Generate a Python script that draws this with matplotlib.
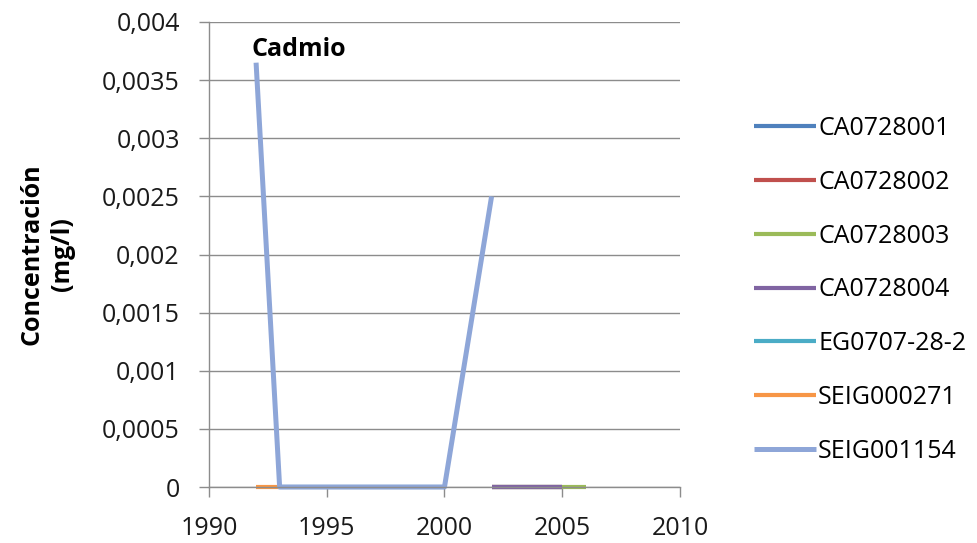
import matplotlib
matplotlib.use("Agg")
import matplotlib.pyplot as plt
from matplotlib.ticker import FuncFormatter, MultipleLocator

plt.rcParams['font.family'] = ['Open Sans', 'DejaVu Sans']

# Cadmium concentration (mg/l) by monitoring station
stations = ["CA0728001", "CA0728002", "CA0728003", "CA0728004",
            "EG0707-28-2", "SEIG000271", "SEIG001154"]
colors = ["#4F81BD", "#C0504D", "#9BBB59", "#8064A2",
          "#4BACC6", "#F79646", "#8EA6D8"]

years_ca01 = [2002, 2005]
conc_ca01 = [0.0, 0.0]
years_ca02 = [2002, 2005]
conc_ca02 = [0.0, 0.0]
years_ca03 = [2002, 2006]
conc_ca03 = [0.0, 0.0]
years_ca04 = [2002, 2005]
conc_ca04 = [0.0, 0.0]
years_eg = [1993, 2000]
conc_eg = [0.0, 0.0]
years_s271 = [1992, 1993]
conc_s271 = [0.0, 0.0]
years_s1154 = [1992, 1993, 2000, 2002]
conc_s1154 = [0.00365, 0.0, 0.0, 0.0025]

series_years = [years_ca01, years_ca02, years_ca03, years_ca04,
                years_eg, years_s271, years_s1154]
series_conc = [conc_ca01, conc_ca02, conc_ca03, conc_ca04,
               conc_eg, conc_s271, conc_s1154]

FS = 18

fig = plt.figure(figsize=(9.77, 5.43), dpi=100)
ax = fig.add_axes([0.2139, 0.1031, 0.4821, 0.8564])

for name, c, xs, ys in zip(stations, colors, series_years, series_conc):
    lw = 3.6 if name == "SEIG001154" else 3.0
    ax.plot(xs, ys, color=c, lw=lw, label=name, solid_capstyle='butt',
            clip_on=False)

ax.set_xlim(1990, 2010)
ax.set_ylim(0, 0.004)
ax.xaxis.set_major_locator(MultipleLocator(5))
ax.yaxis.set_major_locator(MultipleLocator(0.0005))
ax.yaxis.set_major_formatter(FuncFormatter(
    lambda v, p: "0" if abs(v) < 1e-12 else f"{v:.4f}".rstrip("0").replace(".", ",")))

ax.grid(axis='y', color='#8c8c8c', lw=1.0)
ax.set_axisbelow(True)
for s in ("top", "right"):
    ax.spines[s].set_visible(False)
for s in ("left", "bottom"):
    ax.spines[s].set_color('#8c8c8c')
    ax.spines[s].set_linewidth(1.0)
ax.tick_params(axis='both', colors='#8c8c8c', labelcolor='#1a1a1a',
               labelsize=FS, length=7, width=1.0)
ax.tick_params(axis='y', pad=14)
ax.tick_params(axis='x', pad=14)

ax.set_ylabel("Concentración\n(mg/l)", fontsize=FS, fontweight='bold',
              linespacing=1.25)
ax.yaxis.set_label_coords(-0.285, 0.5)
ax.text(1991.8, 0.00376, "Cadmio", fontsize=FS, fontweight='bold',
        ha='left', va='center')

leg = fig.legend(loc='center left', bbox_to_anchor=(0.749, 0.466),
                 frameon=False, fontsize=FS, handlelength=2.45,
                 handletextpad=0.1, labelspacing=1.15)

fig.savefig("out.png", dpi=100)
